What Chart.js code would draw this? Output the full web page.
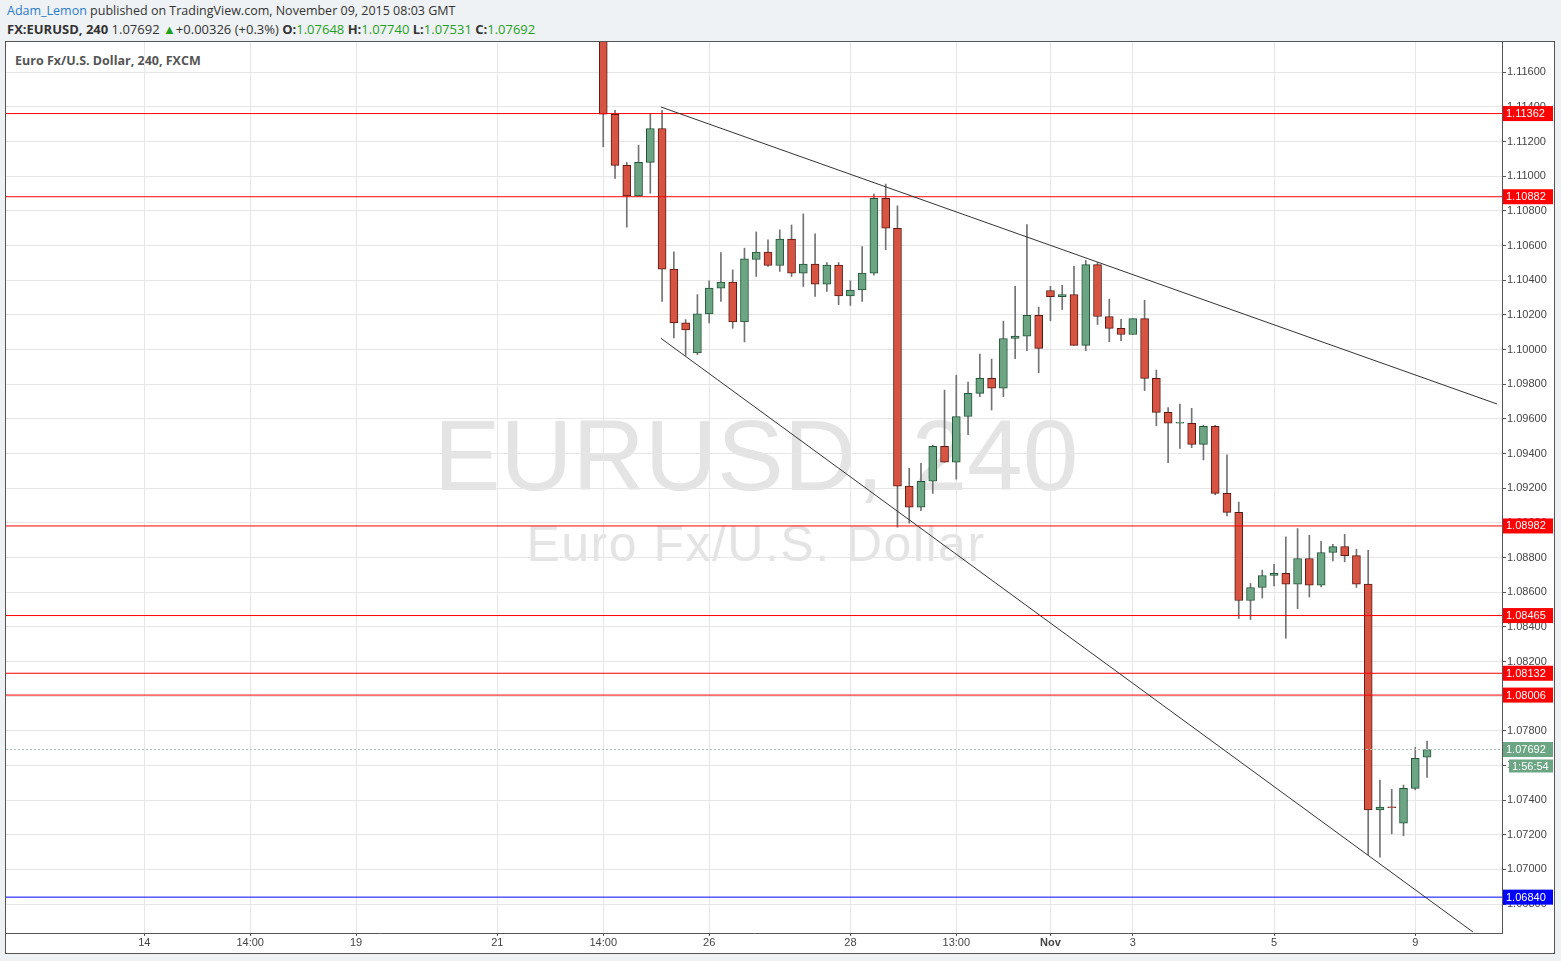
<!DOCTYPE html>
<html>
<head>
<meta charset="utf-8">
<title>EURUSD, 240</title>
<script src="https://cdn.jsdelivr.net/npm/chart.js"></script>
<style>
  body { margin:0; width:1561px; height:961px; overflow:hidden; position:relative; background:#eff2f5; font-family:"Open Sans", Arial, sans-serif; }
  .hdr { position:absolute; left:7px; font-size:13px; line-height:18px; color:#333; white-space:nowrap; }
  #line1 { top:2px; font-size:12.5px; }
  #line2 { top:20px; }
  .g { color:#1f9f1f; }
  .author { color:#2b7bcb; }
  #box { position:absolute; left:5px; top:41px; width:1548px; height:911px; border:1px solid #555; background:#fff; }
  .wm { position:absolute; left:0; width:1500px; text-align:center; color:#e4e4e4; font-family:"Liberation Sans", Arial, sans-serif; white-space:nowrap; }
  #wm1 { top:363px; font-size:100px; line-height:100px; }
  #wm2 { top:477px; font-size:50px; line-height:50px; letter-spacing:1.5px; }
  #title { position:absolute; left:9px; top:11px; font-size:12.5px; line-height:16px; font-weight:bold; color:#555; white-space:nowrap; }
  #wrap { position:absolute; left:0; top:0; width:1548px; height:911px; }
</style>
</head>
<body>

<div class="hdr" id="line1"><span class="author">Adam_Lemon</span> published on TradingView.com, November 09, 2015 08:03 GMT</div>
<div class="hdr" id="line2"><b>FX:EURUSD, 240</b> 1.07692 <span class="g">▲</span>+0.00326 (+0.3%) <b>O:</b><span class="g">1.07648</span> <b>H:</b><span class="g">1.07740</span> <b>L:</b><span class="g">1.07531</span> <b>C:</b><span class="g">1.07692</span></div>

<div id="box">
  <div class="wm" id="wm1">EURUSD, 240</div>
  <div class="wm" id="wm2">Euro Fx/U.S. Dollar</div>
  <div id="title">Euro Fx/U.S. Dollar, 240, FXCM</div>
  <div id="wrap"><canvas id="chart"></canvas></div>
</div>

<script>
// 4h candles, index 0 = first visible bar
const opens = [1.1195, 1.11358, 1.11063, 1.10886, 1.11080, 1.11276, 1.10464, 1.10154, 1.09981, 1.10206,
  1.10355, 1.10390, 1.10159, 1.10520, 1.10562, 1.10485, 1.10637, 1.10441, 1.10493, 1.10378,
  1.10487, 1.10309, 1.10344, 1.10441, 1.10873, 1.10700, 1.09212, 1.09090, 1.09240, 1.09442,
  1.09350, 1.09614, 1.09747, 1.09834, 1.09777, 1.10064, 1.10078, 1.10197, 1.10341, 1.10306,
  1.10318, 1.10024, 1.10490, 1.10191, 1.10122, 1.10087, 1.10179, 1.09834, 1.09638, 1.09575,
  1.09575, 1.09453, 1.09557, 1.09170, 1.09060, 1.08552, 1.08627, 1.08696, 1.08708, 1.08646,
  1.08794, 1.08640, 1.08829, 1.08863, 1.08811, 1.08646, 1.07344, 1.07359, 1.07267, 1.07468,
  1.07648];
const highs = [1.1200, 1.11381, 1.11080, 1.11180, 1.11362, 1.11381, 1.10564, 1.10173, 1.10317, 1.10397,
  1.10560, 1.10460, 1.10585, 1.10679, 1.10633, 1.10691, 1.10719, 1.10783, 1.10668, 1.10502,
  1.10502, 1.10397, 1.10595, 1.10898, 1.10955, 1.10829, 1.09315, 1.09343, 1.09448, 1.09766,
  1.09852, 1.09812, 1.09974, 1.09945, 1.10164, 1.10365, 1.10722, 1.10245, 1.10365, 1.10371,
  1.10480, 1.10515, 1.10502, 1.10291, 1.10174, 1.10179, 1.10285, 1.09882, 1.09665, 1.09686,
  1.09661, 1.09564, 1.09563, 1.09392, 1.09120, 1.08650, 1.08727, 1.08761, 1.08919, 1.08967,
  1.08928, 1.08894, 1.08876, 1.08934, 1.08848, 1.08842, 1.07516, 1.07463, 1.07487, 1.07704,
  1.07740];
const lows = [1.1117, 1.10988, 1.10706, 1.10886, 1.10902, 1.10278, 1.10067, 1.09966, 1.09971, 1.10154,
  1.10278, 1.10123, 1.10044, 1.10422, 1.10480, 1.10451, 1.10422, 1.10364, 1.10307, 1.10336,
  1.10259, 1.10255, 1.10278, 1.10430, 1.10576, 1.08975, 1.08998, 1.09070, 1.09170, 1.09350,
  1.09252, 1.09509, 1.09728, 1.09651, 1.09728, 1.09947, 1.09993, 1.09866, 1.10166, 1.10231,
  1.10024, 1.09993, 1.10145, 1.10045, 1.10051, 1.10087, 1.09763, 1.09560, 1.09347, 1.09430,
  1.09434, 1.09363, 1.09162, 1.09040, 1.08448, 1.08442, 1.08566, 1.08636, 1.08334, 1.08505,
  1.08572, 1.08630, 1.08780, 1.08775, 1.08627, 1.07085, 1.07071, 1.07205, 1.07194, 1.07459,
  1.07531];
const closes = [1.11358, 1.11063, 1.10886, 1.11080, 1.11276, 1.10464, 1.10154, 1.10113, 1.10206, 1.10355,
  1.10390, 1.10159, 1.10524, 1.10562, 1.10485, 1.10637, 1.10441, 1.10493, 1.10378, 1.10487,
  1.10309, 1.10344, 1.10441, 1.10873, 1.10700, 1.09212, 1.09090, 1.09240, 1.09442, 1.09350,
  1.09614, 1.09747, 1.09834, 1.09777, 1.10064, 1.10078, 1.10197, 1.10007, 1.10306, 1.10318,
  1.10024, 1.10490, 1.10191, 1.10122, 1.10087, 1.10179, 1.09834, 1.09638, 1.09575, 1.09575,
  1.09453, 1.09557, 1.09170, 1.09060, 1.08552, 1.08627, 1.08696, 1.08708, 1.08646, 1.08794,
  1.08640, 1.08829, 1.08863, 1.08811, 1.08646, 1.07344, 1.07359, 1.07356, 1.07468, 1.07641,
  1.07692];

// time axis labels, placed at bar index
const timePos = [-39, -30, -21, -9, 0, 9, 21, 30, 38, 45, 57, 69];
const timeText = ["14", "14:00", "19", "21", "14:00", "26", "28", "13:00", "Nov", "3", "5", "9"];
const priceTicks = [1.068, 1.070, 1.072, 1.074, 1.076, 1.078, 1.080, 1.082, 1.084, 1.086, 1.088, 1.090,
  1.092, 1.094, 1.096, 1.098, 1.100, 1.102, 1.104, 1.106, 1.108, 1.110, 1.112, 1.114, 1.116];

// horizontal levels drawn on the chart
const levelPrices = [1.11362, 1.10882, 1.08982, 1.08465, 1.08132, 1.08006, 1.06840];
const levelColors = ["#ff0000", "#ff0000", "#ff0000", "#ff0000", "#ff0000", "#ff0000", "#0000ff"];
const lastPrice = 1.07692;
const countdown = "1:56:54";

// trend lines: [barIndex, price] start and end
const upperTrend = [[4.9, 1.11400], [75.94, 1.09686]];
const lowerTrend = [[4.9, 1.10065], [73.9, 1.06639]];

const xMin = -50.75, xMax = 76.37;
const yMin = 1.06633, yMax = 1.11775;

const upFill = "#6ba583", upLine = "#225437", dnFill = "#d75442", dnLine = "#5b1a13";
const isUp = closes.map((c, i) => c >= opens[i]);

const datasets = [];
[upperTrend, lowerTrend].forEach(t => {
  datasets.push({
    type: "line", data: t.map(p => ({x: p[0], y: p[1]})),
    borderColor: "#333", borderWidth: 1, pointRadius: 0, order: 0
  });
});
levelPrices.forEach((p, i) => {
  datasets.push({
    type: "line", data: [{x: xMin, y: p}, {x: xMax, y: p}],
    borderColor: levelColors[i], borderWidth: 1, pointRadius: 0, order: 1
  });
});
datasets.push({
  type: "line", data: [{x: xMin, y: lastPrice}, {x: xMax, y: lastPrice}],
  borderColor: "#a9c6b6", borderWidth: 1, borderDash: [2, 2], pointRadius: 0, order: 1
});
datasets.push({
  type: "bar", data: opens.map((o, i) => ({x: i, y: [o, closes[i]]})),
  backgroundColor: isUp.map(u => u ? upFill : dnFill),
  borderColor: isUp.map(u => u ? upLine : dnLine),
  borderWidth: 1, borderSkipped: false, barThickness: 8, minBarLength: 1,
  grouped: false, order: 2
});
datasets.push({
  type: "bar", data: lows.map((l, i) => ({x: i, y: [l, highs[i]]})),
  backgroundColor: "#737375", barThickness: 1, grouped: false, order: 3
});

const tagPlugin = {
  id: "tags",
  afterDraw(chart) {
    const {ctx, chartArea, scales} = chart;
    const r = chartArea.right;
    ctx.save();
    ctx.font = '11px "Liberation Sans", Arial, sans-serif';
    ctx.textBaseline = "middle";
    levelPrices.forEach((p, i) => {
      const py = scales.y.getPixelForValue(p);
      ctx.fillStyle = levelColors[i];
      ctx.fillRect(r + 1, py - 7.5, 50, 15);
      ctx.fillStyle = "#fff";
      ctx.fillText(p.toFixed(5), r + 4, py + 0.5);
    });
    const py = scales.y.getPixelForValue(lastPrice);
    ctx.fillStyle = upFill;
    ctx.fillRect(r + 1, py - 7.5, 50, 15);
    ctx.fillRect(r + 7, py + 10, 44, 13);
    ctx.fillStyle = "#fff";
    ctx.fillText(lastPrice.toFixed(5), r + 4, py + 0.5);
    ctx.fillText(countdown, r + 10, py + 17);
    ctx.restore();
  }
};

const axisFont = {family: '"Liberation Sans", Arial, sans-serif', size: 11};

new Chart(document.getElementById("chart"), {
  type: "bar",
  data: {datasets},
  options: {
    responsive: true,
    maintainAspectRatio: false,
    animation: false,
    events: [],
    layout: {padding: 0},
    plugins: {legend: {display: false}, tooltip: {enabled: false}},
    scales: {
      x: {
        type: "linear", min: xMin, max: xMax, offset: false,
        afterBuildTicks: s => { s.ticks = timePos.map(v => ({value: v})); },
        afterFit: s => { s.height = 20; s.paddingLeft = 0; s.paddingRight = 0; },
        grid: {color: "#e6e6e6", tickColor: "#555", tickLength: 3, offset: false},
        border: {color: "#555"},
        ticks: {
          autoSkip: false, maxRotation: 0, padding: 0, color: "#444",
          font: c => ({...axisFont, weight: c.tick && timeText[timePos.indexOf(c.tick.value)] === "Nov" ? "bold" : "normal"}),
          callback: v => timeText[timePos.indexOf(v)]
        }
      },
      y: {
        position: "right", min: yMin, max: yMax,
        afterBuildTicks: s => { s.ticks = priceTicks.map(v => ({value: v})); },
        afterFit: s => { s.width = 52; s.paddingTop = 0; s.paddingBottom = 0; },
        grid: {color: "#e6e6e6", tickColor: "#555", tickLength: 4},
        border: {color: "#555"},
        ticks: {padding: 1, color: "#444", font: axisFont, callback: v => v.toFixed(5)}
      }
    }
  },
  plugins: [tagPlugin]
});
</script>
</body>
</html>
